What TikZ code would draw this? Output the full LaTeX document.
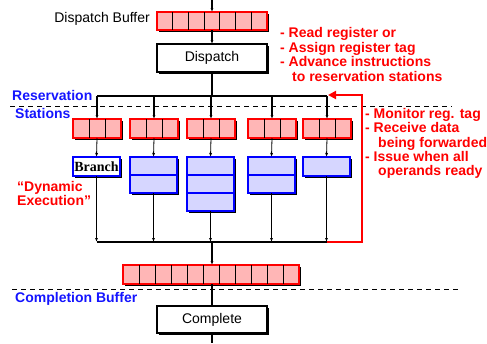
\documentclass[tikz,border=0pt]{standalone}
\usepackage{fontspec}
\setmainfont{Liberation Sans}
\newfontfamily\serifbf{Liberation Serif}
\usetikzlibrary{arrows.meta,shadows}
\definecolor{bufpink}{RGB}{255,182,182}
\definecolor{unitblue}{RGB}{214,214,255}
\definecolor{txtred}{RGB}{255,0,0}
\definecolor{txtblue}{RGB}{20,20,255}
\tikzset{
  shade2/.style={drop shadow={shadow xshift=2pt,shadow yshift=-2pt,fill=black,opacity=1}},
  bufbox/.style={shade2,draw=red,fill=bufpink,line width=1.6pt,anchor=north west,inner sep=0pt,outer sep=0pt},
  unitbox/.style={shade2,draw=blue,fill=unitblue,line width=1.6pt,anchor=north west,inner sep=0pt,outer sep=0pt,minimum width=47pt},
  stagebox/.style={shade2,draw=black,fill=white,line width=1.2pt,anchor=north west,inner sep=0pt,outer sep=0pt,minimum width=110pt,font=\fontsize{14}{15}\selectfont},
  cellline/.style={black,line width=0.9pt},
  flow/.style={black,line width=1.2pt,-{Latex[length=4pt,width=3pt]}},
  thinflow/.style={black,line width=1.1pt,-{Latex[length=4pt,width=3pt]}},
  bus/.style={black,line width=1.6pt},
  sep/.style={black,line width=0.8pt,dash pattern=on 5pt off 4pt},
  redlbl/.style={anchor=base west,inner sep=0pt,text=txtred,font=\fontsize{14}{15}\selectfont\bfseries},
  bluelbl/.style={anchor=base west,inner sep=0pt,text=txtblue,font=\fontsize{14}{15}\selectfont\bfseries},
  feedback/.style={txtred,line width=2.6pt},
}
\begin{document}
\begin{tikzpicture}[x=1pt,y=-1pt]
\useasboundingbox (0,0) rectangle (487,343);

% dashed stage separators
\draw[sep] (10,106) -- (452,106);
\draw[sep] (12,289) -- (459,289);

% dispatch buffer
\node[bufbox,minimum width=110pt,minimum height=18pt] (dbuf) at (157,12) {};
\foreach \i in {1,...,6} \draw[cellline] (157+\i*15.714,12) -- (157+\i*15.714,30);
\coordinate (in) at (212,0);
\draw[flow] (in) -- (dbuf.north -| in);
\node[anchor=base east,inner sep=0pt,font=\fontsize{14}{15}\selectfont] (dbuflbl) at (150,22) {Dispatch Buffer};

% dispatch stage
\node[stagebox,minimum height=28pt] (disp) at (157,44) {Dispatch};
\draw[flow] (dbuf.south -| in) -- (disp.north -| in);

% distribution bus to reservation stations
\coordinate (tl) at (97,96);
\coordinate (tr) at (327,96);
\draw[bus] (tl) -- (tr);
\draw[black,line width=2.2pt] (disp.south -| in) -- (212,96);

% reservation stations and functional units
\foreach \n/\x/\h in {1/73/19,2/130/36,3/187/54,4/248/36,5/303/19} {
  \node[bufbox,minimum width=48pt,minimum height=19pt] (rs\n) at (\x,119) {};
  \draw[cellline] (\x+16,119) -- (\x+16,138);
  \draw[cellline] (\x+32,119) -- (\x+32,138);
  \coordinate (c\n) at (\x+24,96);
  \draw[flow] (c\n) -- (rs\n.north);
}
\node[unitbox,minimum height=19pt,fill=white,font=\fontsize{14}{15}\selectfont\serifbf\bfseries] (fu1) at (73,157) {Branch};
\node[unitbox,minimum height=36pt] (fu2) at (130,157) {};
\draw[blue,line width=1.4pt] (fu2.west |- 0,175) -- (fu2.east |- 0,175);
\node[unitbox,minimum height=54pt] (fu3) at (187,157) {};
\draw[blue,line width=1.4pt] (fu3.west |- 0,175) -- (fu3.east |- 0,175);
\draw[blue,line width=1.4pt] (fu3.west |- 0,193) -- (fu3.east |- 0,193);
\node[unitbox,minimum height=36pt] (fu4) at (248,157) {};
\draw[blue,line width=1.4pt] (fu4.west |- 0,175) -- (fu4.east |- 0,175);
\node[unitbox,minimum height=19pt] (fu5) at (303,157) {};

\foreach \n in {1,...,5} \draw[black,line width=0.8pt,-{Latex[length=4pt,width=3pt]}] (rs\n.south) -- (fu\n.north);

% result bus
\coordinate (bl) at (97,242);
\coordinate (br) at (327,242);
\draw[bus] (bl) -- (br);
\foreach \n in {1,...,5} \draw[thinflow] (fu\n.south) -- (fu\n.south |- bl);

% forwarding path back to the reservation stations
\coordinate (fa) at (362,242);
\coordinate (fb) at (362,95);
\coordinate (fc) at (328,95);
\draw[feedback,-{Triangle[length=8pt,width=8pt]}] (br) -- (fa) -- (fb) -- (fc);

% completion buffer
\node[bufbox,minimum width=176pt,minimum height=19pt] (cbuf) at (123,265) {};
\foreach \i in {1,...,10} \draw[cellline] (123+\i*16,265) -- (123+\i*16,284);
\draw[black,line width=2.2pt,-{Latex[length=4pt,width=3pt]}] (212,242) -- (cbuf.north -| in);

% completion stage
\node[stagebox,minimum height=27pt] (comp) at (157,306) {Complete};
\draw[black,line width=2.2pt] (cbuf.south -| in) -- (comp.north -| in);
\coordinate (out) at (212,343);
\draw[black,line width=2.2pt] (comp.south -| in) -- (out);

% labels
\node[bluelbl] (l1) at (12,100) {Reservation};
\node[bluelbl] (l2) at (15,118) {Stations};
\node[bluelbl] (l3) at (15,302) {Completion Buffer};
\node[redlbl] (l4) at (17,191) {“Dynamic};
\node[redlbl] (l5) at (17,205) {Execution”};

\node[redlbl] (d1) at (280,37) {- Read register or};
\node[redlbl] (d2) at (280,52) {- Assign register tag};
\node[redlbl] (d3) at (280,66.5) {- Advance instructions};
\node[redlbl] (d4) at (292,81) {to reservation stations};

\node[redlbl] (r1) at (365,118) {- Monitor reg. tag};
\node[redlbl] (r2) at (365,132.5) {- Receive data};
\node[redlbl] (r3) at (378,147) {being forwarded};
\node[redlbl] (r4) at (365,161) {- Issue when all};
\node[redlbl] (r5) at (378,175) {operands ready};
\end{tikzpicture}
\end{document}
